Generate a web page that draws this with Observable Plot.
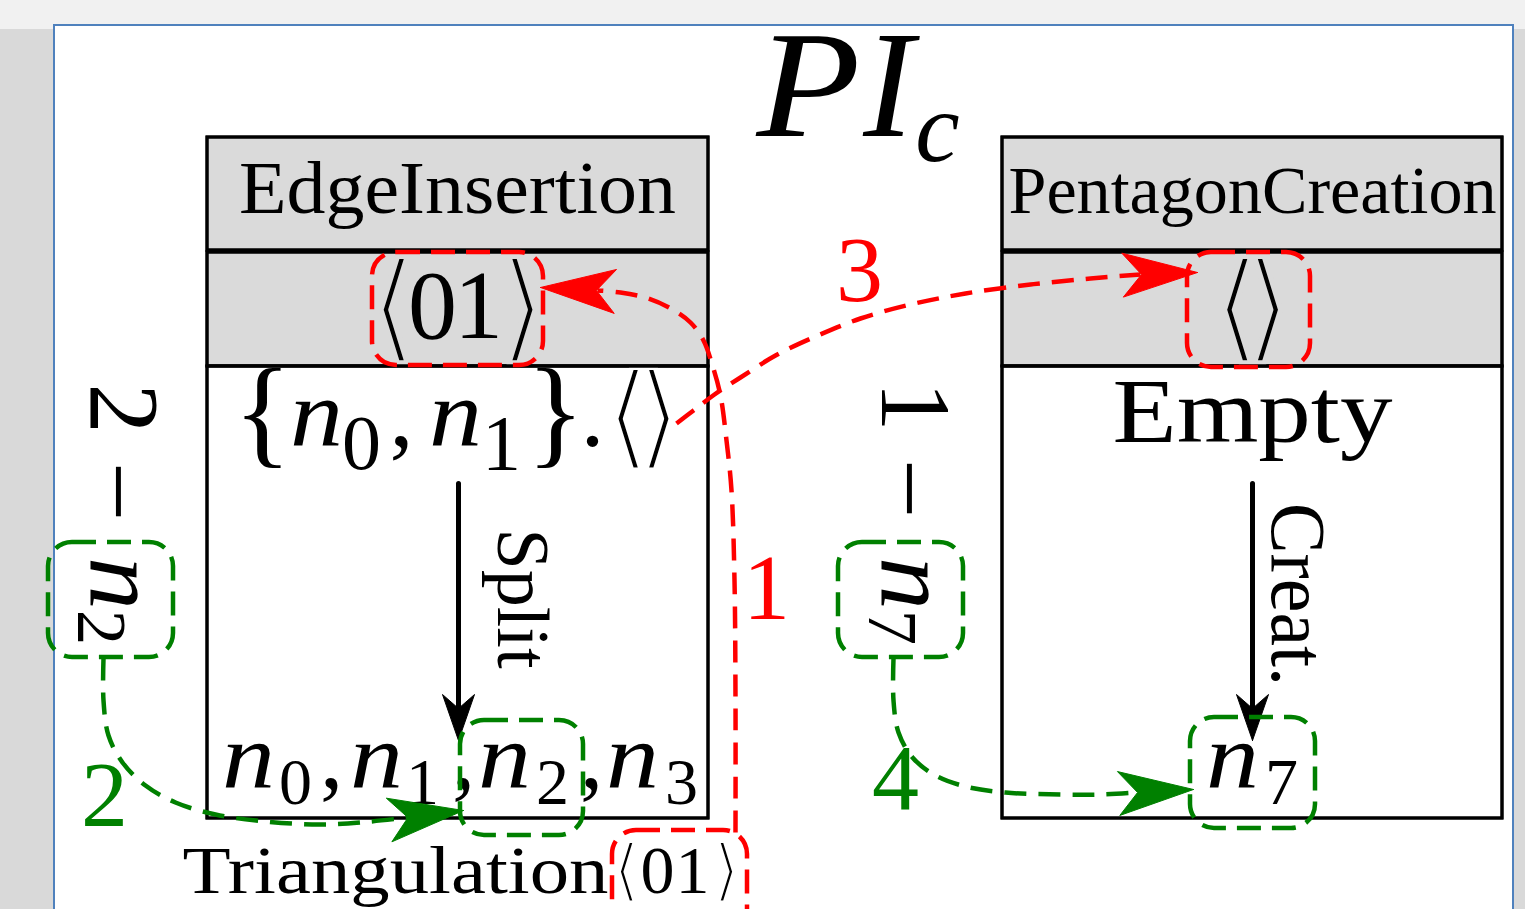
<!DOCTYPE html>
<html><head><meta charset="utf-8">
<script src="https://cdn.jsdelivr.net/npm/d3@7"></script>
<script src="https://cdn.jsdelivr.net/npm/@observablehq/plot@0.6"></script>
<style>html,body{margin:0;padding:0;background:#fff;overflow:hidden}</style>
</head><body><div id="chart"></div>
<script>
// ---------------- content ----------------
const titleTokens   = ["P", "I", "c"];
const titleKinds    = ["it", "it", "itsub"];
const moduleNames   = ["EdgeInsertion", "PentagonCreation"];
const stateTokens   = [["⟨", "0", "1", "⟩"], ["⟨⟩"]];
const stateKinds    = [["br", "rm", "rm", "br"], ["br"]];
const leftBody      = ["{", "n", "0", ",", "n", "1", "}", ".", "⟨⟩"];
const leftBodyKinds = ["brace", "it", "sub", "rm", "it", "sub", "brace", "rm", "br"];
const rightBody     = ["Empty"];
const ruleNames     = ["Split", "Creat."];
const leftResult    = ["n", "0", ",", "n", "1", ",", "n", "2", ",", "n", "3"];
const leftResultK   = ["it", "sub", "rm", "it", "sub", "rm", "it", "sub", "rm", "it", "sub"];
const rightResult   = ["n", "7"];
const rightResultK  = ["it", "sub"];
const footer        = ["Triangulation", "⟨", "0", "1", "⟩"];
const footerKinds   = ["rm", "br", "rm", "rm", "br"];
const sideTokens    = [["2", "−", "n", "2"], ["1", "−", "n", "7"]];
const sideKinds     = ["rm", "rm", "it", "sub"];
const stepLabels    = ["1", "2", "3", "4"];
const stepColors    = ["#ff0000", "#008000", "#ff0000", "#008000"];

// ---------------- layout (diagram space = pixels) ----------------
const W = 1525, H = 909;
const FONT = "'Liberation Serif', 'DejaVu Serif', serif";
const RED = "#ff0000", GREEN = "#008000", HEAD = "#dadada";
const pageRects = [
  {x1: 0, x2: W, y1: 0, y2: 29, fill: "#f1f1f1", stroke: "none"},
  {x1: 0, x2: 53, y1: 29, y2: H, fill: "#d9d9d9", stroke: "none"},
  {x1: 1514, x2: W, y1: 29, y2: H, fill: "#d9d9d9", stroke: "none"},
  {x1: 54, x2: 1513, y1: 25, y2: H + 10, fill: "#ffffff", stroke: "#4f81bd"}
];
const moduleX = [[207, 708], [1002, 1502]];
const rowY = [[137, 250, HEAD], [252, 366, HEAD], [366, 818, "#ffffff"]];
const layout = {
  title: {x: [808, 888, 937], y: 135, subY: 160, size: 152, subSize: 100},
  names: {x: [457, 1252], y: 212, size: [74, 68], width: [437, 488]},
  states: {x: [[393, 432, 478, 522], [1252]], y: 337, size: 98, brScale: 1.22, brDrop: 0.1, bg: HEAD},
  leftBody: {x: [262, 316, 361, 401, 455, 501, 555, 592, 643], y: 445, subY: 468, size: 96, subSize: 78, brScale: 1.2, brDrop: 0.1, bg: "#ffffff"},
  rightBody: {x: [1252], y: 441, size: 91, width: 280},
  rules: {x: [497, 1271], y: [598, 594], size: [74, 78], width: [140, 183]},
  leftResult: {x: [248, 295, 331, 376, 422, 463, 504, 552, 591, 632, 681], y: 787, subY: 803, size: 93, subSize: 66},
  rightResult: {x: [1232, 1281], y: 787, subY: 803, size: 93, subSize: 66},
  footer: {x: [395, 626, 657, 692, 726], y: 892, size: 68, width: 426, brScale: 1.0, brDrop: 0, bg: "#ffffff"},
  side: {x: [[90, 84, 90, 77], [881, 875, 881, 868]], y: [[408, 491, 583, 627], [406, 488, 583, 627]], size: 100, subSize: 70},
  steps: {x: [766, 104, 859, 895], y: [618, 825, 300, 808], size: 94},
  glyphWidths: {"P": 104, "n": 53, "−": 60},
  pairGap: {"⟨⟩": 31}   // distance between the two delimiter glyph centres
};
const blackArrows = [
  {from: [458, 483], tip: [458, 740]},
  {from: [1252, 483], tip: [1252, 740]}
];
const dashedPaths = [
  {id: "1", color: RED, tip: [540, 287], pts: [[735,832],[735,700],[734,580],[731,490],[726,440],[720,395],[712,365],[703,340],[690,322],[672,309],[648,298],[620,292],[597,290]]},
  {id: "2", color: GREEN, tip: [463, 810], pts: [[103,658],[103,700],[108,735],[122,762],[145,785],[175,802],[215,814],[265,821],[320,824],[370,821],[416,816]]},
  {id: "3", color: RED, tip: [1197, 272], pts: [[676,423],[693,410],[714,394],[740,377],[775,355],[815,336],[860,318],[910,304],[965,293],[1030,284],[1090,278],[1140,274]]},
  {id: "4", color: GREEN, tip: [1193, 789], pts: [[893,658],[893,700],[898,732],[912,757],[935,775],[965,786],[1005,792],[1060,794],[1100,794],[1137,792]]}
];
const dashedBoxes = [
  {x1: 372, x2: 543, y1: 252, y2: 365, color: RED},
  {x1: 1187, x2: 1310, y1: 252, y2: 367, color: RED},
  {x1: 612, x2: 747, y1: 830, y2: 950, color: RED},
  {x1: 48, x2: 173, y1: 542, y2: 657, color: GREEN},
  {x1: 838, x2: 963, y1: 542, y2: 657, color: GREEN},
  {x1: 460, x2: 583, y1: 720, y2: 835, color: GREEN},
  {x1: 1190, x2: 1315, y1: 717, y2: 828, color: GREEN}
];

// ---------------- build mark data ----------------
const texts = [];
const widths = {...layout.glyphWidths};
function put(text, x, y, size, italic, rot = 0, color = "#000", bg = null) {
  texts.push({text, x, y, size, italic, rot, color, bg});
}
// token placement: subscripts drop, brackets/braces enlarge to delimiter height
function token(t, kind, x, L) {
  if (kind === "sub") return put(t, x, L.subY, L.subSize, false);
  if (kind === "br") return put(t, x, L.y + L.brDrop * L.size, L.brScale * L.size, false, 0, "#000", L.bg);
  if (kind === "brace") return put(t, x, L.y + 0.065 * L.size, 1.26 * L.size, false);
  put(t, x, L.y, L.size, kind === "it");
}
titleTokens.forEach((t, i) => {
  const sub = titleKinds[i].endsWith("sub");
  put(t, layout.title.x[i], sub ? layout.title.subY : layout.title.y, sub ? layout.title.subSize : layout.title.size, true);
});
moduleNames.forEach((t, i) => { put(t, layout.names.x[i], layout.names.y, layout.names.size[i], false); widths[t] = layout.names.width[i]; });
stateTokens.forEach((row, r) => row.forEach((t, i) => token(t, stateKinds[r][i], layout.states.x[r][i], layout.states)));
leftBody.forEach((t, i) => token(t, leftBodyKinds[i], layout.leftBody.x[i], layout.leftBody));
rightBody.forEach((t, i) => { put(t, layout.rightBody.x[i], layout.rightBody.y, layout.rightBody.size, false); widths[t] = layout.rightBody.width; });
ruleNames.forEach((t, i) => { put(t, layout.rules.x[i], layout.rules.y[i], layout.rules.size[i], false, 90); widths[t] = layout.rules.width[i]; });
leftResult.forEach((t, i) => token(t, leftResultK[i], layout.leftResult.x[i], layout.leftResult));
rightResult.forEach((t, i) => token(t, rightResultK[i], layout.rightResult.x[i], layout.rightResult));
footer.forEach((t, i) => token(t, footerKinds[i], layout.footer.x[i], layout.footer));
widths[footer[0]] = layout.footer.width;
sideTokens.forEach((row, r) => row.forEach((t, i) => {
  const sub = sideKinds[i] === "sub";
  put(t, layout.side.x[r][i], layout.side.y[r][i], sub ? layout.side.subSize : layout.side.size, sideKinds[i] === "it", 90);
}));
stepLabels.forEach((t, i) => put(t, layout.steps.x[i], layout.steps.y[i], layout.steps.size, false, 0, stepColors[i]));

const boxRects = [];
moduleX.forEach(([x1, x2]) => rowY.forEach(([y1, y2, fill]) => boxRects.push({x1, x2, y1, y2, fill})));

function head(id, tip, from, L, Wd, N) {
  const dx = tip[0] - from[0], dy = tip[1] - from[1], len = Math.hypot(dx, dy);
  const ux = dx / len, uy = dy / len, nx = -uy, ny = ux;
  return [
    tip,
    [tip[0] - L * ux + Wd * nx, tip[1] - L * uy + Wd * ny],
    [tip[0] - N * ux, tip[1] - N * uy],
    [tip[0] - L * ux - Wd * nx, tip[1] - L * uy - Wd * ny],
    tip
  ].map(([x, y]) => ({id, x, y}));
}
const blackLines = blackArrows.flatMap((a, i) => [{id: i, x: a.from[0], y: a.from[1]}, {id: i, x: a.tip[0], y: a.tip[1] - 30}]);
const blackHeads = blackArrows.flatMap((a, i) => head("b" + i, a.tip, a.from, 46, 16, 32));
const pathPts = dashedPaths.flatMap(p => p.pts.map(([x, y]) => ({id: p.id, color: p.color, x, y})));
const pathHeads = dashedPaths.flatMap(p => head(p.id, p.tip, p.pts[p.pts.length - 1], 75, 22, 56).map(d => ({...d, color: p.color})));

// ---------------- plot ----------------
const textMark = (italic) => Plot.text(texts.filter(d => d.italic === italic && !d.bg), {
  x: "x", y: "y", text: "text", fontSize: d => d.size, rotate: d => d.rot, fill: d => d.color,
  fontFamily: FONT, fontStyle: italic ? "italic" : "normal", textAnchor: "middle", lineAnchor: "bottom"
});
// delimiters: thin the fallback glyph strokes by painting a background-coloured outline over them
const delimMark = Plot.text(texts.filter(d => d.bg), {
  x: "x", y: "y", text: "text", fontSize: d => d.size, fill: d => d.color, stroke: d => d.bg,
  strokeWidth: d => d.size * 0.044, paintOrder: "normal", strokeLinejoin: "round",
  fontFamily: FONT, textAnchor: "middle", lineAnchor: "bottom"
});

const svg = Plot.plot({
  width: W, height: H, margin: 0,
  x: {domain: [0, W], range: [0, W], axis: null},
  y: {domain: [0, H], range: [0, H], axis: null},
  color: {type: "identity"},
  style: {background: "transparent", overflow: "hidden"},
  marks: [
    Plot.rect(pageRects, {x1: "x1", x2: "x2", y1: "y1", y2: "y2", fill: d => d.fill, stroke: d => d.stroke, strokeWidth: 2}),
    Plot.rect(boxRects, {x1: "x1", x2: "x2", y1: "y1", y2: "y2", fill: d => d.fill, stroke: "#000", strokeWidth: 3}),
    Plot.line(blackLines, {x: "x", y: "y", z: "id", stroke: "#000", strokeWidth: 5}),
    Plot.line(blackHeads, {x: "x", y: "y", z: "id", fill: "#000", stroke: "#000", strokeWidth: 1, strokeLinejoin: "miter"}),
    delimMark,
    Plot.rect(boxRects, {x1: "x1", x2: "x2", y1: "y1", y2: "y2", fill: "none", stroke: "#000", strokeWidth: 3}),
    textMark(false),
    textMark(true),
    Plot.line(pathPts, {x: "x", y: "y", z: "id", stroke: d => d.color, strokeWidth: 4.5, strokeDasharray: "22,12", curve: "catmull-rom", strokeLinecap: "butt"}),
    Plot.line(pathHeads, {x: "x", y: "y", z: "id", fill: d => d.color, stroke: d => d.color, strokeWidth: 1}),
    Plot.rect(dashedBoxes, {x1: "x1", x2: "x2", y1: "y1", y2: "y2", rx: 24, ry: 24, fill: "none", stroke: d => d.color, strokeWidth: 4.5, strokeDasharray: "24,11"})
  ]
});
document.getElementById("chart").appendChild(svg);
d3.select(svg).selectAll("text").each(function () {
  const t = this.textContent;
  const w = widths[t];
  if (w) { this.setAttribute("textLength", w); this.setAttribute("lengthAdjust", "spacingAndGlyphs"); }
  const gap = layout.pairGap[t];
  if (gap) {
    const adv = this.getComputedTextLength() / t.length;
    const ls = gap - adv;
    this.style.letterSpacing = ls + "px";
    this.setAttribute("dx", ls / 2);
  }
});
</script>
</body></html>
